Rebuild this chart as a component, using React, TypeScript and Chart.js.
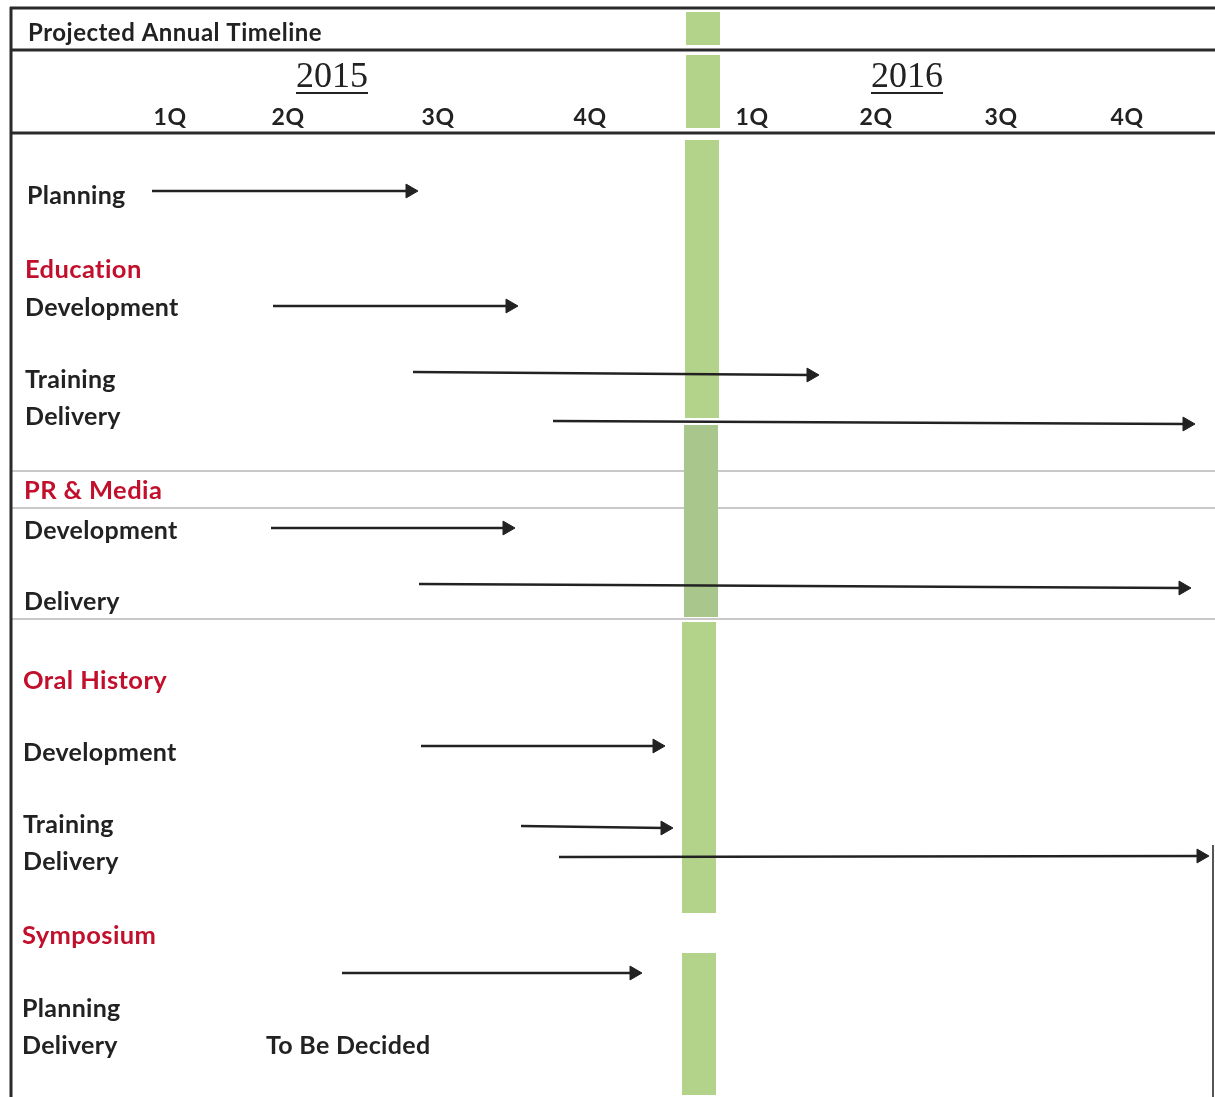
import React, { useEffect, useRef } from "react";
import { Chart, registerables } from "chart.js";

Chart.register(...registerables);

// ---- Data (timeline units across, row units down) ----
const title = "Projected Annual Timeline";
const years = ["2015", "2016"];
const yearPos = [332, 907];
const quarterLabels = ["1Q", "2Q", "3Q", "4Q", "1Q", "2Q", "3Q", "4Q"];
const quarterPos = [170, 288, 438, 590, 752, 876, 1001, 1127];

const sectionLabels = ["Education", "PR & Media", "Oral History", "Symposium"];
const sectionRows = [278, 499, 689, 944];
const sectionX = [25, 24, 23, 22];

const taskLabels = [
  "Planning",
  "Development", "Training", "Delivery",
  "Development", "Delivery",
  "Development", "Training", "Delivery",
  "Planning", "Delivery", "To Be Decided",
];
const taskRows = [204, 316, 388, 425, 539, 610, 761, 833, 870, 1017, 1054, 1054];
const taskX = [27, 25, 25, 25, 24, 24, 23, 23, 23, 22, 22, 266];

// arrows: start, end (tip), start row, end row
const arrowStart = [152, 273, 413, 553, 271, 419, 421, 521, 559, 342];
const arrowEnd = [418, 518, 819, 1195, 515, 1191, 665, 673, 1209, 642];
const arrowRowStart = [191, 306, 372, 421, 528, 584, 746, 826, 857, 973];
const arrowRowEnd = [191, 306, 375, 424, 528, 588, 746, 828, 856, 973];

// green marker (year boundary) segments
const markerTop = [12, 55, 140, 425, 622, 953];
const markerBottom = [45, 128, 418, 617, 913, 1095];
const markerPos = [703, 703, 702, 701, 699, 699];

const W = 1215;
const H = 1097;
const RED = "#c20f2c";
const INK = "#222222";
const FONT = "Lato, 'Open Sans', sans-serif";

const setSpacing = (ctx: any, v: string) => {
  try {
    ctx.letterSpacing = v;
  } catch (e) {}
};

const decorPlugin = {
  id: "decor",
  beforeDatasetsDraw(chart: any) {
    const { ctx, scales } = chart;
    const X = (v: number) => scales.x.getPixelForValue(v);
    const Y = (v: number) => scales.y.getPixelForValue(v);
    ctx.save();
    // gray separators
    ctx.strokeStyle = "#c9c9c9";
    ctx.lineWidth = 2;
    [471, 508, 619].forEach((r) => {
      ctx.beginPath();
      ctx.moveTo(X(12), Y(r));
      ctx.lineTo(X(1215), Y(r));
      ctx.stroke();
    });
    // frame
    ctx.strokeStyle = "#2a2a2a";
    ctx.lineWidth = 3;
    ctx.beginPath();
    ctx.moveTo(X(11), Y(7));
    ctx.lineTo(X(11), Y(1097));
    ctx.stroke();
    [8, 50, 133].forEach((r) => {
      ctx.beginPath();
      ctx.moveTo(X(10), Y(r));
      ctx.lineTo(X(1215), Y(r));
      ctx.stroke();
    });
    ctx.lineWidth = 2;
    ctx.strokeStyle = "#555";
    ctx.beginPath();
    ctx.moveTo(X(1213), Y(845));
    ctx.lineTo(X(1213), Y(1097));
    ctx.stroke();
    ctx.restore();
  },
  afterDatasetsDraw(chart: any) {
    const { ctx, scales } = chart;
    const X = (v: number) => scales.x.getPixelForValue(v);
    const Y = (v: number) => scales.y.getPixelForValue(v);
    ctx.save();
    ctx.textBaseline = "alphabetic";
    // title
    setSpacing(ctx, "0.5px");
    ctx.fillStyle = INK;
    ctx.textAlign = "left";
    ctx.font = `bold 24px ${FONT}`;
    ctx.fillText(title, X(28), Y(41));
    // years
    setSpacing(ctx, "0px");
    ctx.font = `36px 'Liberation Serif', 'DejaVu Serif', serif`;
    ctx.textAlign = "center";
    ctx.lineWidth = 2;
    ctx.strokeStyle = INK;
    years.forEach((y, i) => {
      ctx.fillText(y, X(yearPos[i]), Y(87));
      const w = ctx.measureText(y).width;
      ctx.beginPath();
      ctx.moveTo(X(yearPos[i]) - w / 2, Y(93));
      ctx.lineTo(X(yearPos[i]) + w / 2, Y(93));
      ctx.stroke();
    });
    // quarters
    setSpacing(ctx, "0.5px");
    ctx.font = `bold 23px ${FONT}`;
    quarterLabels.forEach((q, i) => {
      ctx.fillText(q, X(quarterPos[i]), Y(125));
    });
    // sections
    setSpacing(ctx, "0.4px");
    ctx.textAlign = "left";
    ctx.fillStyle = RED;
    ctx.font = `bold 25.5px ${FONT}`;
    sectionLabels.forEach((s, i) => ctx.fillText(s, X(sectionX[i]), Y(sectionRows[i])));
    // tasks
    setSpacing(ctx, "0.3px");
    ctx.fillStyle = INK;
    ctx.font = `bold 25px ${FONT}`;
    taskLabels.forEach((t, i) => ctx.fillText(t, X(taskX[i]), Y(taskRows[i])));
    ctx.restore();
  },
};

export default function App() {
  const ref = useRef<HTMLCanvasElement | null>(null);
  useEffect(() => {
    if (!ref.current) return;
    const HEAD_R = 8;
    const markerSets = markerTop.map((t, i) => ({
      type: "line" as const,
      data: [
        { x: markerPos[i], y: t },
        { x: markerPos[i], y: markerBottom[i] },
      ],
      borderColor: i === 3 ? "#a9c68c" : "#b4d38a",
      borderWidth: 34,
      borderCapStyle: "butt" as const,
      pointRadius: 0,
      order: 2,
    }));
    const arrowSets = arrowStart.map((s, i) => ({
      type: "line" as const,
      data: [
        { x: s, y: arrowRowStart[i] },
        { x: arrowEnd[i] - HEAD_R, y: arrowRowEnd[i] },
      ],
      borderColor: INK,
      borderWidth: 2.5,
      pointRadius: [0, HEAD_R],
      pointHoverRadius: 0,
      pointStyle: "triangle" as const,
      pointRotation: 90,
      pointBackgroundColor: INK,
      pointBorderColor: INK,
      pointBorderWidth: 1,
      order: 1,
    }));
    const chart = new Chart(ref.current, {
      type: "line",
      data: { datasets: [...markerSets, ...arrowSets] as any },
      options: {
        animation: false,
        responsive: false,
        maintainAspectRatio: false,
        layout: { padding: 0, autoPadding: false },
        plugins: { legend: { display: false }, tooltip: { enabled: false } },
        events: [],
        scales: {
          x: { type: "linear", min: 0, max: W, display: false },
          y: { type: "linear", min: 0, max: H, reverse: true, display: false },
        },
      },
      plugins: [decorPlugin],
    });
    return () => chart.destroy();
  }, []);
  return (
    <div style={{ position: "absolute", left: 0, top: 0, width: W, height: H, background: "#fff" }}>
      <canvas ref={ref} width={W} height={H} style={{ display: "block", width: W, height: H }} />
    </div>
  );
}
